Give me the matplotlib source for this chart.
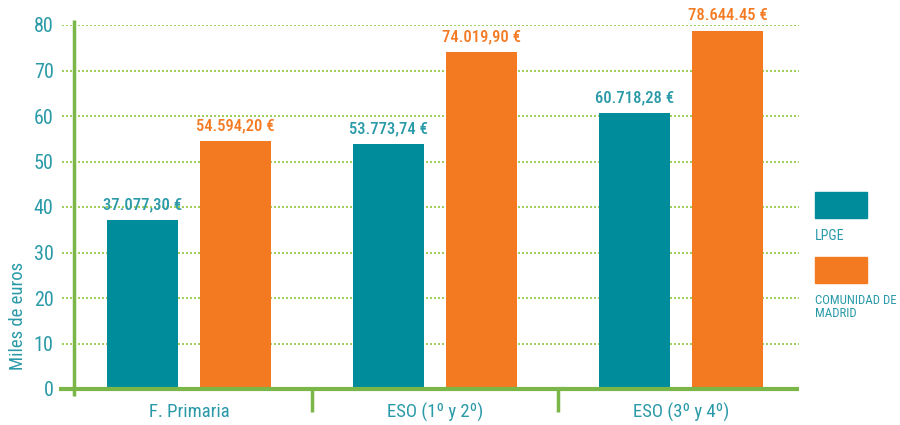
import matplotlib
matplotlib.use('Agg')
import matplotlib.pyplot as plt
from matplotlib import font_manager
from matplotlib.patches import Rectangle
import numpy as np

# pick a narrow family if one is installed
installed = {f.name for f in font_manager.fontManager.ttflist}
candidates = ['Roboto Condensed', 'Liberation Sans Narrow', 'Open Sans Condensed',
              'Noto Sans Condensed', 'DejaVu Sans Condensed', 'Roboto', 'DejaVu Sans']
narrow = [c for c in candidates if c in installed]
plt.rcParams['font.family'] = narrow + ['DejaVu Sans']

categories = ['F. Primaria', 'ESO (1º y 2º)', 'ESO (3º y 4º)']
lpge = [37.0773, 53.77374, 60.71828]
madrid = [54.5942, 74.0199, 78.64445]
lpge_labels = ['37.077,30 €', '53.773,74 €', '60.718,28 €']
madrid_labels = ['54.594,20 €', '74.019,90 €', '78.644.45 €']
series_names = ['LPGE', 'COMUNIDAD DE\nMADRID']

teal = '#008C9B'
orange = '#F47A22'
green = '#7AB648'
text_teal = '#2A9AA8'

W, H = 900, 425
fig = plt.figure(figsize=(9, 4.25), dpi=100)
ax = fig.add_axes([62 / W, 1 - 389 / H, (799 - 62) / W, (389 - 25) / H])

x = np.arange(len(categories))
bw = 0.29
off = 0.189
ax.bar(x - off, lpge, bw, color=teal, zorder=3)
ax.bar(x + off, madrid, bw, color=orange, zorder=3)

for xi, v, t in zip(x, lpge, lpge_labels):
    ax.text(xi - off, v + 1.7, t, ha='center', va='bottom', color=text_teal,
            fontsize=12, fontweight='medium')
for xi, v, t in zip(x, madrid, madrid_labels):
    ax.text(xi + off, v + 1.7, t, ha='center', va='bottom', color=orange,
            fontsize=12, fontweight='medium')

ax.set_xlim(-0.516, 2.480)
ax.set_ylim(0, 80)
for s in ax.spines.values():
    s.set_visible(False)

# dotted grid
for yv in range(10, 90, 10):
    ax.axhline(yv, color='#8DC63F', lw=1.2, ls=(0, (1.2, 1.2)), zorder=1)

# axis lines
ax.plot([-0.53, 2.480], [0, 0], color=green, lw=3, clip_on=False, zorder=4,
        solid_capstyle='butt')
ax.plot([-0.467, -0.467], [-1.6, 81], color=green, lw=2.5, clip_on=False,
        zorder=4, solid_capstyle='butt')
for sx in [0.5, 1.5]:
    ax.plot([sx, sx], [0, -5], color=green, lw=2.5, clip_on=False, zorder=4,
            solid_capstyle='butt')

ax.set_yticks(range(0, 90, 10))
ax.tick_params(axis='y', length=0, pad=6, labelsize=14.5, labelcolor=text_teal)
ax.set_xticks(x)
ax.set_xticklabels(categories)
ax.tick_params(axis='x', length=0, pad=10, labelsize=13.5, labelcolor=text_teal)

fig.text(18 / W, 1 - 316 / H, 'Miles de euros', rotation=90, ha='center',
         va='center', color=text_teal, fontsize=13.5)

# legend
fig.patches.append(Rectangle((815 / W, 1 - 218 / H), 52 / W, 26 / H,
                             transform=fig.transFigure, color=teal))
fig.text(815 / W, 1 - 236 / H, series_names[0], ha='left', va='center',
         color=text_teal, fontsize=10)
fig.patches.append(Rectangle((815 / W, 1 - 283 / H), 52 / W, 26 / H,
                             transform=fig.transFigure, color=orange))
fig.text(815 / W, 1 - 307 / H, series_names[1], ha='left', va='center',
         color=text_teal, fontsize=9.3, linespacing=1.05)

fig.savefig('out.png', dpi=100)
